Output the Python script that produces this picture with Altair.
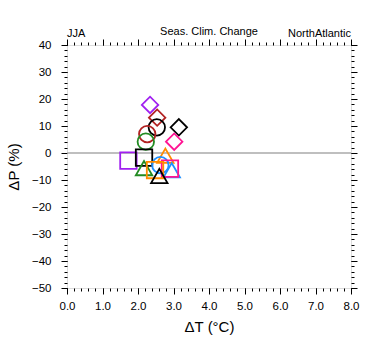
import altair as alt
import pandas as pd

# ---- data ----
dT = [2.34, 2.54, 2.53, 3.15, 2.26, 3.02, 2.22, 1.73, 2.17, 2.77, 2.17, 2.63, 2.95, 2.90, 2.48, 2.60]
dP = [17.8, 13.1, 9.5, 9.5, 7.0, 4.2, 4.2, -2.8, -1.7, -1.0, -5.6, -4.5, -6.4, -5.8, -6.3, -8.5]
model = ["purple", "firebrick", "black", "black", "firebrick", "pink", "green", "purple",
         "black", "orange", "green", "blue", "blue", "pink", "orange", "black"]
marker = ["diamond", "diamond", "circle", "diamond", "circle", "diamond", "circle", "square",
          "square", "triangle", "triangle", "circle", "triangle", "square", "square", "triangle"]

model_names = ["purple", "firebrick", "black", "pink", "green", "orange", "blue"]
model_colors = ["#A020F0", "#B22222", "#000000", "#FF1493", "#228B22", "#FF8C00", "#1E90FF"]
marker_names = ["circle", "square", "diamond", "triangle"]
marker_shapes = ["circle", "square", "diamond", "triangle-up"]

x_major = [0, 1, 2, 3, 4, 5, 6, 7, 8]
y_major = [-50, -40, -30, -20, -10, 0, 10, 20, 30, 40]
x_minor = [round(i * 0.2, 1) for i in range(41)]
y_minor = list(range(-50, 41, 2))

df = pd.DataFrame({"dT": dT, "dP": dP, "model": model, "marker": marker})

FONT = "Liberation Sans"
xs = alt.Scale(domain=[0, 8], nice=False, zero=False)
ys = alt.Scale(domain=[-50, 40], nice=False, zero=False)


def xaxis(orient, values, size, labels=False, title=None):
    kw = dict(orient=orient, values=values, tickSize=size, tickColor="black", tickWidth=1,
              domain=False, grid=False, labels=labels, title=title)
    if labels:
        kw.update(format=".1f", labelFont=FONT, labelFontSize=11.5, labelColor="black",
                  labelPadding=6, labelFlush=False)
    if title:
        kw.update(titleFont=FONT, titleFontSize=15, titleFontWeight="normal",
                  titleColor="black", titlePadding=8)
    return alt.Axis(**kw)


def yaxis(orient, values, size, labels=False, title=None):
    kw = dict(orient=orient, values=values, tickSize=size, tickColor="black", tickWidth=1,
              domain=False, grid=False, labels=labels, title=title)
    if labels:
        kw.update(format="d", labelFont=FONT, labelFontSize=11.5, labelColor="black",
                  labelPadding=10, labelFlush=False)
    if title:
        kw.update(titleFont=FONT, titleFontSize=15, titleFontWeight="normal",
                  titleColor="black", titlePadding=10)
    return alt.Axis(**kw)


zero = alt.Chart(pd.DataFrame({"z": [0]})).mark_rule(color="#AAAAAA", strokeWidth=1.6).encode(
    y=alt.Y("z:Q", scale=ys, axis=None)
)

points = alt.Chart(df).mark_point(size=270, strokeWidth=1.8, filled=False, opacity=1).encode(
    x=alt.X("dT:Q", scale=xs, axis=xaxis("bottom", x_major, 6, True, "ΔT (°C)")),
    y=alt.Y("dP:Q", scale=ys, axis=yaxis("left", y_major, 6, True, "ΔP (%)")),
    color=alt.Color("model:N", scale=alt.Scale(domain=model_names, range=model_colors), legend=None),
    shape=alt.Shape("marker:N", scale=alt.Scale(domain=marker_names, range=marker_shapes), legend=None),
)


def tick_layer(xo, xv, yo, yv, size):
    return alt.Chart(df).mark_point(opacity=0).encode(
        x=alt.X("dT:Q", scale=xs, axis=xaxis(xo, xv, size)),
        y=alt.Y("dP:Q", scale=ys, axis=yaxis(yo, yv, size)),
    )


l2 = tick_layer("bottom", x_minor, "left", y_minor, 3)
l3 = tick_layer("top", x_major, "right", y_major, 6)
l4 = tick_layer("top", x_minor, "right", y_minor, 3)

labels_df = pd.DataFrame({"t": ["JJA"]})
t1 = alt.Chart(labels_df).mark_text(align="left", baseline="alphabetic", font=FONT, fontSize=11,
                                    color="black").encode(x=alt.value(0), y=alt.value(-8),
                                                          text=alt.value("JJA"))
t2 = alt.Chart(labels_df).mark_text(align="center", baseline="alphabetic", font=FONT, fontSize=11,
                                    color="black").encode(x=alt.value(142), y=alt.value(-10),
                                                          text=alt.value("Seas. Clim. Change"))
t3 = alt.Chart(labels_df).mark_text(align="right", baseline="alphabetic", font=FONT, fontSize=11,
                                    color="black").encode(x=alt.value(284), y=alt.value(-8),
                                                          text=alt.value("NorthAtlantic"))

chart = alt.layer(zero, points, l2, l3, l4, t1, t2, t3).resolve_axis(
    x="independent", y="independent"
).properties(
    width=284, height=243,
    autosize=alt.AutoSizeParams(type="none"),
    padding={"left": 67, "top": 45, "right": 29, "bottom": 67},
).configure_view(stroke="black", strokeWidth=1).configure(background="white")

chart.save("out.html", embed_options={"renderer": "svg", "actions": False})
